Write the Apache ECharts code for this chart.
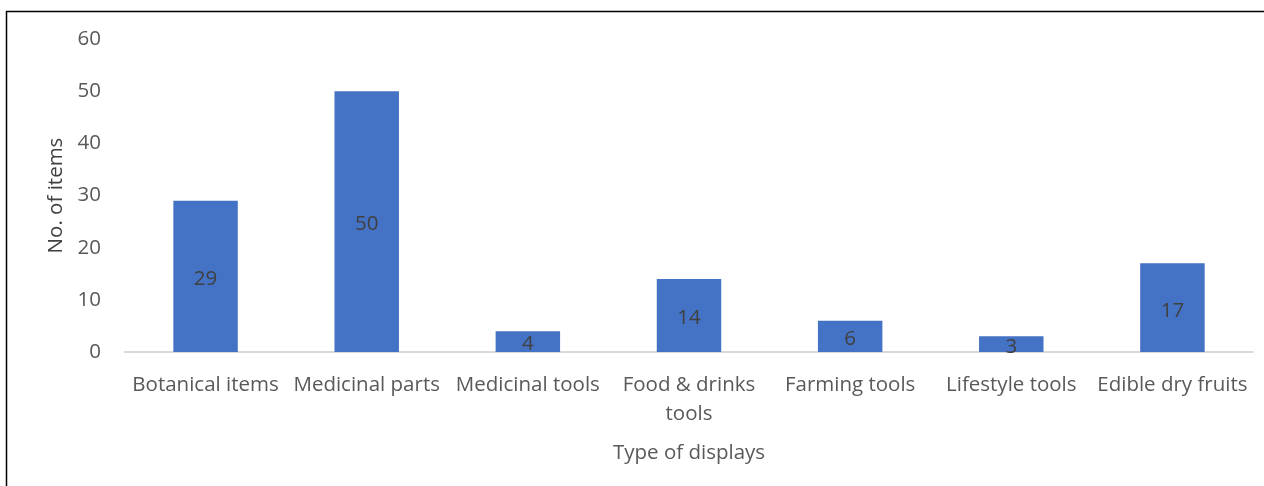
<!DOCTYPE html>
<html>
<head>
<meta charset="utf-8">
<script src="https://cdn.jsdelivr.net/npm/echarts@6/dist/echarts.min.js"></script>
<style>
html,body{margin:0;padding:0;background:#fff;}
#chart{width:1264px;height:486px;}
</style>
</head>
<body>
<div id="chart"></div>
<script>
const categories = ["Botanical items", "Medicinal parts", "Medicinal tools", "Food & drinks\ntools", "Farming tools", "Lifestyle tools", "Edible dry fruits"];
const values = [29, 50, 4, 14, 6, 3, 17];
const yTicks = [0, 10, 20, 30, 40, 50, 60];
const xAxisName = "Type of displays";
const yAxisName = "No. of items";

const font = "'Open Sans', 'Noto Sans', sans-serif";
const fs = 20.5;
const chart = echarts.init(document.getElementById('chart'));
chart.setOption({
  animation: false,
  backgroundColor: '#fff',
  graphic: [{
    type: 'rect', left: 4, top: 9,
    shape: { x: 0, y: 0, width: 1400, height: 600 },
    style: { fill: 'none', stroke: '#000', lineWidth: 1.5 },
    silent: true, z: -10
  }],
  grid: { left: 125, right: 11, top: 39, bottom: 134, containLabel: false },
  xAxis: {
    type: 'category',
    data: categories,
    name: xAxisName,
    nameLocation: 'middle',
    nameGap: 91,
    nameTextStyle: { fontFamily: font, fontSize: fs, color: '#595959' },
    axisLine: { lineStyle: { color: '#d9d9d9', width: 2 } },
    axisTick: { show: false },
    axisLabel: { fontFamily: font, fontSize: fs, color: '#595959', margin: 19, lineHeight: 29, interval: 0 }
  },
  yAxis: {
    type: 'value',
    min: yTicks[0], max: yTicks[yTicks.length - 1], interval: 10,
    name: yAxisName,
    nameLocation: 'middle',
    nameGap: 58,
    nameTextStyle: { fontFamily: font, fontSize: fs, color: '#404040' },
    axisLine: { show: false },
    axisTick: { show: false },
    splitLine: { show: false },
    axisLabel: { fontFamily: font, fontSize: fs, color: '#595959', margin: 24 }
  },
  series: [{
    type: 'bar',
    data: values,
    barWidth: '40%',
    itemStyle: { color: '#4472C4' },
    label: { show: true, position: 'inside', offset: [0, 3], fontFamily: font, fontSize: fs, color: '#404040' }
  }]
});
</script>
</body>
</html>
